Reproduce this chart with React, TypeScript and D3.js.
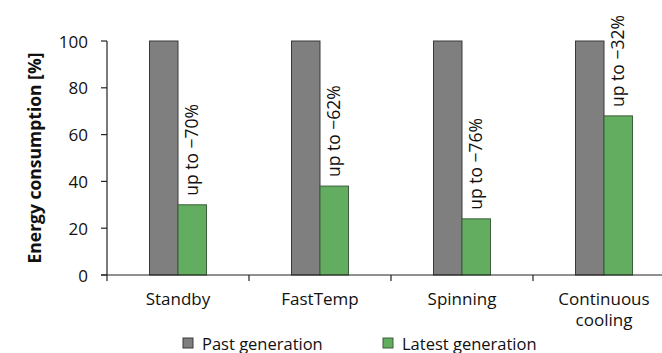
import React from "react";
import * as d3 from "d3";

const categories = ["Standby", "FastTemp", "Spinning", "Continuous cooling"];
const pastValues = [100, 100, 100, 100];
const latestValues = [30, 38, 24, 68];
const annotations = ["up to −70%", "up to −62%", "up to −76%", "up to −32%"];
const yTicks = [0, 20, 40, 60, 80, 100];
const seriesNames = ["Past generation", "Latest generation"];
const yLabel = "Energy consumption [%]";

const W = 662;
const H = 353;
const FONT = "'Open Sans', sans-serif";
const TXT = "#111";
const GRAY = "#7f7f7f";
const GREEN = "#62ad5f";

export default function App() {
  const x = d3.scaleBand<string>().domain(categories).range([107, 675]).padding(0);
  const y = d3.scaleLinear().domain([0, 100]).range([275, 41]);
  const barW = 28.5;

  return (
    <svg width={W} height={H} style={{ position: "absolute", left: 0, top: 0, background: "#fff" }} fontFamily={FONT}>
      {categories.map((c, i) => {
        const cx = x(c)! + x.bandwidth() / 2;
        return (
          <g key={c}>
            <rect x={cx - barW} y={y(pastValues[i])} width={barW} height={y(0) - y(pastValues[i])} fill={GRAY} stroke="#3a3a3a" strokeWidth={1} />
            <rect x={cx} y={y(latestValues[i])} width={barW} height={y(0) - y(latestValues[i])} fill={GREEN} stroke="#3d5e3b" strokeWidth={1} />
            <text
              transform={`translate(${cx + barW / 2 + 1},${y(latestValues[i]) - 9}) rotate(-90)`}
              fontSize={17.5}
              fill={TXT}
              dominantBaseline="middle"
              textAnchor="start"
            >
              {annotations[i]}
            </text>
          </g>
        );
      })}
      <line x1={107} x2={107} y1={y(100)} y2={y(0)} stroke="#222" strokeWidth={1.2} />
      {yTicks.map((t) => (
        <g key={t}>
          <line x1={101} x2={107} y1={y(t)} y2={y(t)} stroke="#222" strokeWidth={1.2} />
          <text x={88} y={y(t)} textAnchor="end" dominantBaseline="central" fontSize={17} fill={TXT}>
            {t}
          </text>
        </g>
      ))}
      <line x1={101} x2={W} y1={y(0)} y2={y(0)} stroke="#222" strokeWidth={1.2} />
      {categories.map((c) => (
        <line key={c} x1={x(c)!} x2={x(c)!} y1={y(0)} y2={y(0) + 6} stroke="#222" strokeWidth={1.2} />
      ))}
      {categories.map((c) => {
        const cx = x(c)! + x.bandwidth() / 2;
        const words = c === "Continuous cooling" ? ["Continuous", "cooling"] : [c];
        return (
          <text key={c} x={cx} y={305} textAnchor="middle" fontSize={17} fill={TXT}>
            {words.map((w, k) => (
              <tspan key={k} x={cx} dy={k === 0 ? 0 : 21}>
                {w}
              </tspan>
            ))}
          </text>
        );
      })}
      <text transform={`translate(41,158) rotate(-90)`} textAnchor="middle" fontSize={17.5} fontWeight="bold" fill={TXT}>
        {yLabel}
      </text>
      {seriesNames.map((s, i) => {
        const lx = i === 0 ? 183 : 383;
        return (
          <g key={s}>
            <rect x={lx} y={338} width={10} height={10} fill={i === 0 ? GRAY : GREEN} stroke={i === 0 ? "#3a3a3a" : "#3d5e3b"} strokeWidth={1} />
            <text x={lx + 19} y={349.5} fontSize={16.5} fill={TXT}>
              {s}
            </text>
          </g>
        );
      })}
    </svg>
  );
}
